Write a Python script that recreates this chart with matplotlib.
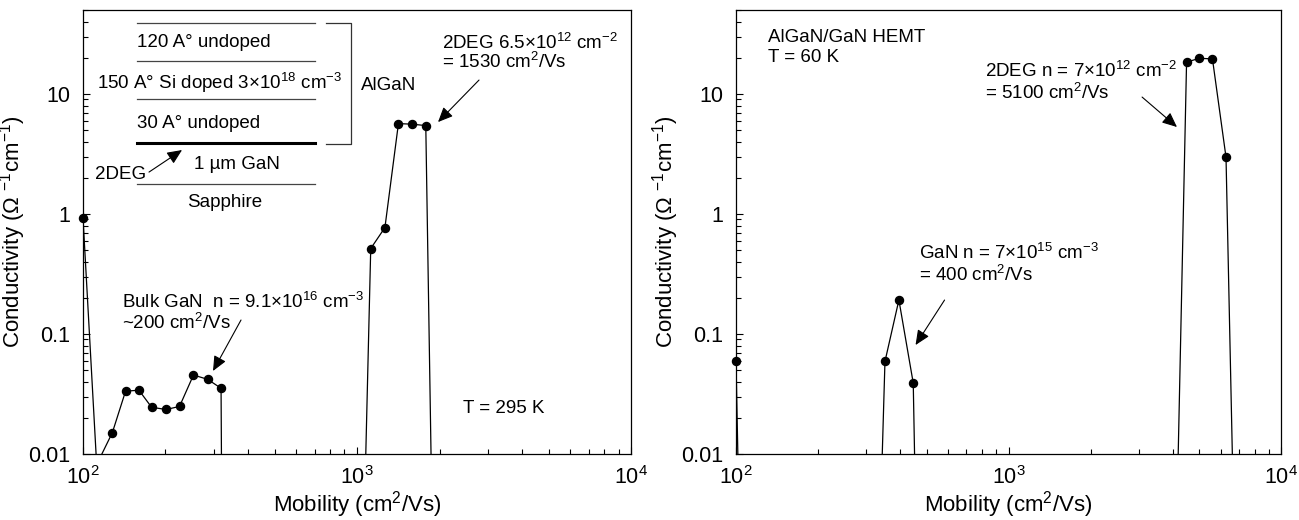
import numpy as np
import matplotlib
matplotlib.use('Agg')
import matplotlib.pyplot as plt
from matplotlib.ticker import FixedLocator, LogLocator, NullFormatter, FuncFormatter

plt.rcParams['font.family'] = 'Liberation Sans'
plt.rcParams['mathtext.fontset'] = 'custom'
plt.rcParams['mathtext.rm'] = 'Liberation Sans'
plt.rcParams['mathtext.it'] = 'Liberation Sans:italic'
plt.rcParams['mathtext.bf'] = 'Liberation Sans:bold'

# mobility spectrum, T = 295 K (values below 0.01 fall off the axis)
mob_295 = [100, 113, 105, 128, 143, 160, 178, 201, 225, 253, 285, 319, 321,
           1070, 1122, 1264, 1416, 1585, 1782, 1884]
cond_295 = [0.93, 0.006, 0.006, 0.0151, 0.0334, 0.034, 0.0245, 0.0235, 0.0249,
            0.0455, 0.0419, 0.0353, 0.003, 0.0057, 0.515, 0.77, 5.66, 5.6,
            5.45, 0.0019]

# mobility spectrum, T = 60 K
mob_60 = [100, 103, 337, 352, 396, 447, 458, 4130, 4500, 5010, 5600, 6280, 6700]
cond_60 = [0.059, 0.002, 0.002, 0.059, 0.192, 0.039, 0.002, 0.002, 18.4, 19.8,
           19.6, 2.97, 0.003]

y_ticks = [0.01, 0.1, 1, 10]
y_labels = ['0.01', '0.1', '1', '10']
x_ticks = [100, 1000, 10000]

FS = 15.5    # tick labels
LFS = 16     # axis labels
TFS = 13.5   # annotations

fig = plt.figure(figsize=(12.99, 5.2), dpi=100)
ax1 = fig.add_axes([0.0639, 0.1269, 0.4219, 0.8538])
ax2 = fig.add_axes([0.5666, 0.1269, 0.4196, 0.8538])


def style(ax):
    ax.set_xscale('log')
    ax.set_yscale('log')
    ax.set_xlim(100, 10000)
    ax.set_ylim(0.01, 50)
    ax.xaxis.set_major_locator(FixedLocator(x_ticks))
    ax.xaxis.set_minor_locator(LogLocator(base=10, subs=np.arange(2, 10)))
    ax.xaxis.set_minor_formatter(NullFormatter())
    ax.xaxis.set_major_formatter(
        FuncFormatter(lambda v, p: r'$10^{%d}$' % round(np.log10(v))))
    ax.yaxis.set_major_locator(FixedLocator(y_ticks))
    ax.yaxis.set_major_formatter(FuncFormatter(
        lambda v, p: y_labels[y_ticks.index(v)] if v in y_ticks else ''))
    ax.yaxis.set_minor_locator(LogLocator(base=10, subs=np.arange(2, 10)))
    ax.yaxis.set_minor_formatter(NullFormatter())
    ax.tick_params(which='both', direction='in', top=False, right=False,
                   width=0.8, labelsize=FS)
    ax.tick_params(which='major', length=5)
    ax.tick_params(which='minor', length=3.5)
    ax.tick_params(axis='y', pad=9)
    ax.tick_params(axis='x', pad=8.5)
    for s in ax.spines.values():
        s.set_linewidth(0.9)
    ax.set_xlabel('Mobility (cm$^{2}$/Vs)', fontsize=LFS, labelpad=0)
    ax.set_ylabel('Conductivity (Ω $^{-1}$cm$^{-1}$)', fontsize=LFS,
                  labelpad=0)


def spectrum(ax, mob, cond):
    mob = np.array(mob)
    cond = np.array(cond)
    ax.plot(mob, cond, color='black', lw=0.9)
    vis = cond >= 0.01
    ax.plot(mob[vis], cond[vis], 'o', color='black', ms=5.8, clip_on=False,
            zorder=3)


def arrow(ax, tail, tip):
    ax.annotate('', xy=tip, xytext=tail, xycoords='axes fraction',
                textcoords='axes fraction',
                arrowprops=dict(arrowstyle='-|>,head_length=0.45,head_width=0.2',
                                mutation_scale=20, lw=0.8, color='black',
                                shrinkA=0, shrinkB=0))


style(ax1)
style(ax2)
spectrum(ax1, mob_295, cond_295)
spectrum(ax2, mob_60, cond_60)

# left panel: layer structure sketch
tr = ax1.transAxes
for yy in [0.9707, 0.8851, 0.7995, 0.6081]:
    ax1.plot([0.0985, 0.4234], [yy, yy], transform=tr, color='#444444', lw=0.9)
ax1.plot([0.0985, 0.4234], [0.7005, 0.7005], transform=tr, color='black', lw=2.2)
ax1.plot([0.4434, 0.489, 0.489, 0.4434], [0.9707, 0.9707, 0.6982, 0.6982],
         transform=tr, color='#333333', lw=0.9)
ax1.text(0.0985, 0.926, '120 A° undoped', transform=tr, fontsize=TFS, va='center')
ax1.text(0.0255, 0.8356, '150 A° Si doped 3×10$^{18}$ cm$^{-3}$', transform=tr,
         fontsize=TFS, va='center')
ax1.text(0.0985, 0.7455, '30 A° undoped', transform=tr, fontsize=TFS, va='center')
ax1.text(0.281, 0.651, '1 µm GaN', transform=tr, fontsize=TFS, va='center',
         ha='center')
ax1.text(0.259, 0.5676, 'Sapphire', transform=tr, fontsize=TFS, va='center',
         ha='center')
ax1.text(0.0219, 0.6306, '2DEG', transform=tr, fontsize=TFS, va='center')
ax1.text(0.507, 0.831, 'AlGaN', transform=tr, fontsize=TFS, va='center')
arrow(ax1, (0.1204, 0.635), (0.1807, 0.6847))

ax1.text(0.655, 0.9257, '2DEG 6.5×10$^{12}$ cm$^{-2}$', transform=tr,
         fontsize=TFS, va='center')
ax1.text(0.655, 0.883, '= 1530 cm$^{2}$/Vs', transform=tr, fontsize=TFS,
         va='center')
arrow(ax1, (0.7226, 0.8423), (0.6478, 0.7477))

ax1.text(0.0712, 0.3423, 'Bulk GaN  n = 9.1×10$^{16}$ cm$^{-3}$', transform=tr,
         fontsize=TFS, va='center')
ax1.text(0.0712, 0.295, '~200 cm$^{2}$/Vs', transform=tr, fontsize=TFS,
         va='center')
arrow(ax1, (0.2883, 0.3018), (0.2372, 0.187))
ax1.text(0.6934, 0.1014, 'T = 295 K', transform=tr, fontsize=TFS, va='center')

# right panel
tr2 = ax2.transAxes
ax2.text(0.0587, 0.939, 'AlGaN/GaN HEMT', transform=tr2, fontsize=TFS,
         va='center')
ax2.text(0.0587, 0.894, 'T = 60 K', transform=tr2, fontsize=TFS, va='center')
ax2.text(0.4569, 0.8626, '2DEG n = 7×10$^{12}$ cm$^{-2}$', transform=tr2,
         fontsize=TFS, va='center')
ax2.text(0.4569, 0.813, '= 5100 cm$^{2}$/Vs', transform=tr2, fontsize=TFS,
         va='center')
arrow(ax2, (0.745, 0.804), (0.809, 0.7365))
ax2.text(0.3358, 0.4527, 'GaN n = 7×10$^{15}$ cm$^{-3}$', transform=tr2,
         fontsize=TFS, va='center')
ax2.text(0.3358, 0.4032, '= 400 cm$^{2}$/Vs', transform=tr2, fontsize=TFS,
         va='center')
arrow(ax2, (0.3826, 0.3468), (0.3294, 0.2455))

fig.savefig('out.png', dpi=100)
